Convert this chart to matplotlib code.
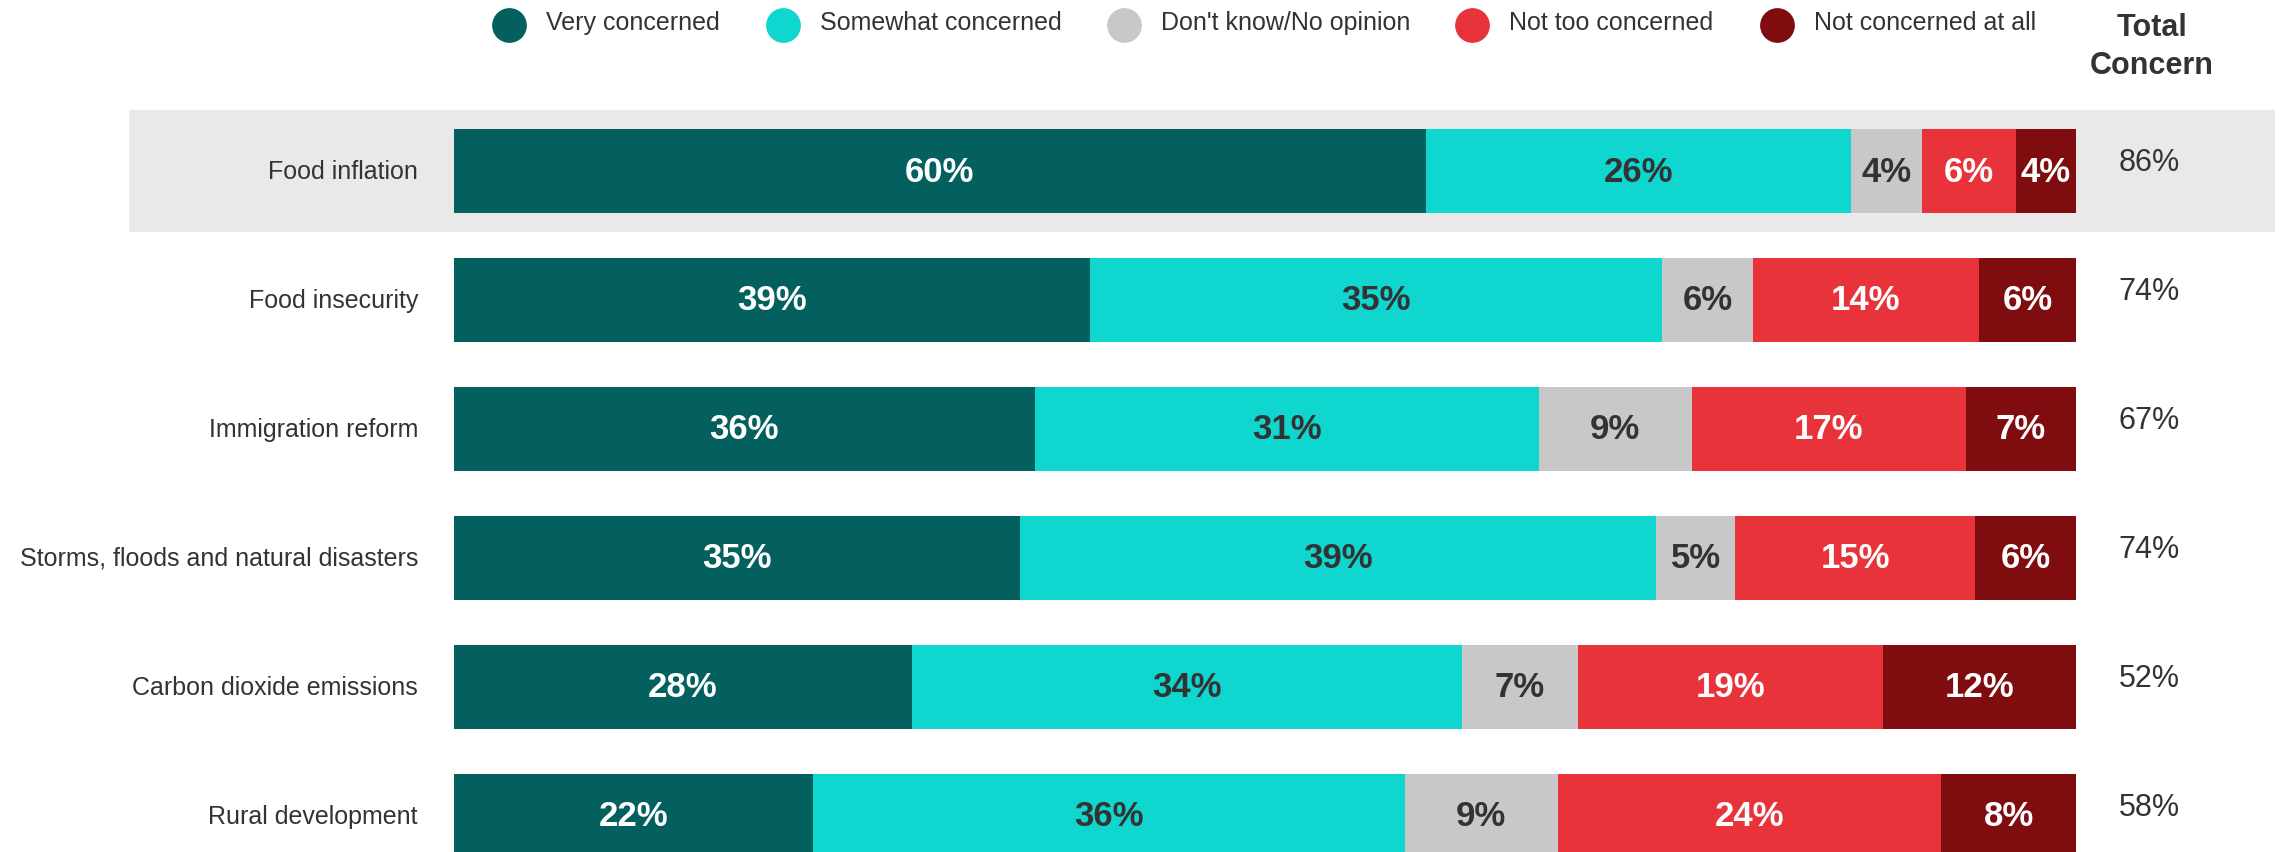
import matplotlib.pyplot as plt
from matplotlib.patches import Rectangle
from matplotlib.lines import Line2D

plt.rcParams['font.family'] = ['Liberation Sans', 'DejaVu Sans']

# data (shares in %, labels show them rounded)
issues = ['Food inflation', 'Food insecurity', 'Immigration reform',
          'Storms, floods and natural disasters', 'Carbon dioxide emissions',
          'Rural development']
very = [59.9, 39.2, 35.8, 34.9, 28.2, 22.1]
somewhat = [26.2, 35.3, 31.1, 39.2, 33.9, 36.4]
dont_know = [4.4, 5.6, 9.4, 4.9, 7.1, 9.4]
not_too = [5.8, 13.9, 16.9, 14.8, 18.8, 23.6]
not_at_all = [3.7, 6.0, 6.8, 6.2, 11.9, 8.3]
total_concern = [86, 74, 67, 74, 52, 58]

series = ['Very concerned', 'Somewhat concerned', "Don't know/No opinion",
          'Not too concerned', 'Not concerned at all']
colors = ['#03605f', '#0fd6ce', '#c8c8c8', '#e8333a', '#7f0d10']
label_colors = ['white', '#333333', '#333333', 'white', 'white']
values = [very, somewhat, dont_know, not_too, not_at_all]

W, H = 2285, 853
fig = plt.figure(figsize=(W / 100, H / 100), dpi=100)

# axes: x 0..100 spans the bars, rows one unit apart
x0, x1 = 454, 2076
row0, step = 172, 129
ax = fig.add_axes([x0 / W, 0, (x1 - x0) / W, 1])
ax.set_xlim(0, 100)
ax.set_ylim((H - row0) / step, -row0 / step)
ax.axis('off')

px = (x1 - x0) / 100.0  # pixels per data unit

# highlight band behind the first row
ax.add_patch(Rectangle(((129 - x0) / px, -0.473), (2275 - 129) / px, 0.946,
                       facecolor='#e9e9e9', edgecolor='none', zorder=0,
                       clip_on=False))

bar_h = 84 / step
for i, name in enumerate(issues):
    row = [v[i] for v in values]
    tot = sum(row)
    left = 0
    for j, v in enumerate(row):
        w = v / tot * 100
        ax.barh(i, w, left=left, height=bar_h, color=colors[j], zorder=2)
        ax.text(left + w / 2, i, f'{v:.0f}%', ha='center', va='center',
                fontsize=25, fontweight='bold', color=label_colors[j], zorder=3)
        left += w
    ax.text((418 - x0) / px, i, name, ha='right', va='center',
            fontsize=18, color='#333333')
    ax.text((2149 - x0) / px, i - 0.07, f'{total_concern[i]}%', ha='center',
            va='center', fontsize=22, color='#333333')

# legend across the top
circle_x = [509, 783, 1124, 1472, 1777]
for cx, name, c in zip(circle_x, series, colors):
    fig.add_artist(Line2D([cx / W], [1 - 26 / H], marker='o', markersize=24,
                          color=c, linestyle='none'))
    fig.text((cx + 37) / W, 1 - 23 / H, name, ha='left', va='center',
             fontsize=18, color='#333333')

fig.text(2152 / W, 1 - 47 / H, 'Total\nConcern', ha='center', va='center',
         fontsize=22, fontweight='bold', color='#333333', linespacing=1.35)

fig.savefig('out.png', dpi=100)
